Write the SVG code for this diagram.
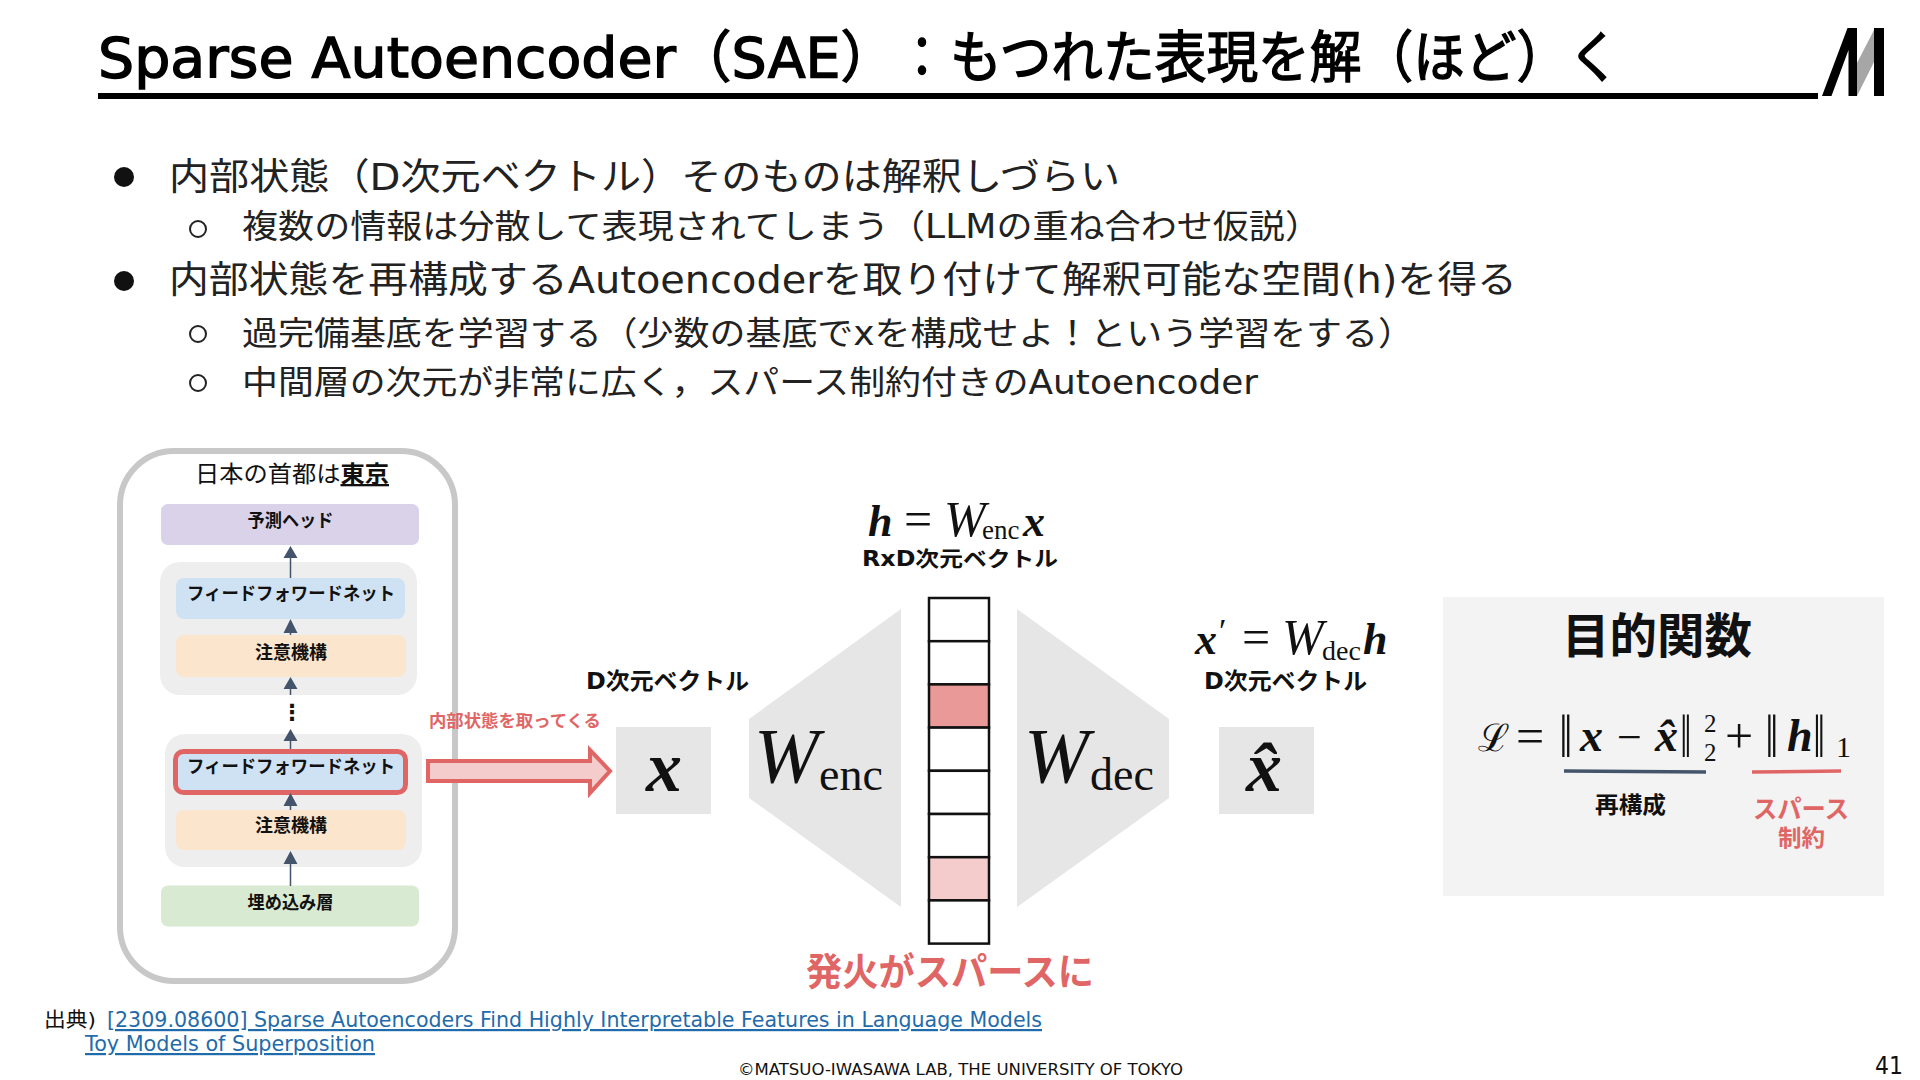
<svg xmlns="http://www.w3.org/2000/svg" width="1920" height="1080" viewBox="0 0 1920 1080">
<style>
text{font-family:"DejaVu Sans","Noto Sans CJK JP",sans-serif;fill:#111}
.ttl{font-size:56px;fill:#000;stroke:#000;stroke-width:1.4}
.body{font-size:37px;fill:#222}
.sub{font-size:33px;fill:#222}
.bl{font-size:18px;font-weight:700;text-anchor:middle}
.lab{font-size:23px;font-weight:700}
.red{fill:#e06666}
.m{font-family:"Liberation Serif",serif;fill:#111}
.bi{font-weight:700;font-style:italic}
.i{font-style:italic}
.link{font-size:22px;fill:#1f6bab;text-decoration:underline}
.grp{fill:#eeeeee}
.ffn{fill:#cfe2f3}
.att{fill:#fce5cd}
.mbox{fill:#e6e6e6}
.cell{fill:#fff;stroke:#111;stroke-width:2.5}
.cn{fill:none;stroke:#44546a;stroke-width:1.5}
.hd{fill:#44546a}
</style>
<rect width="1920" height="1080" fill="#fff"/>
<g id="title">
<text class="ttl" x="98" y="77" textLength="578" lengthAdjust="spacingAndGlyphs">Sparse Autoencoder</text>
<text class="ttl" x="676" y="77" textLength="220" lengthAdjust="spacingAndGlyphs">（SAE）</text>
<text class="ttl" x="898" y="77" textLength="48" lengthAdjust="spacingAndGlyphs">：</text>
<text class="ttl" x="950" y="77" textLength="670" lengthAdjust="spacingAndGlyphs">もつれた表現を解（ほど）く</text>
<rect x="98" y="93" width="1720" height="6" fill="#000"/>
<polygon points="1822,96 1847.500,28 1857,28 1857,96 1848.500,96 1848.500,50 1831.500,96" fill="#000"/>
<polygon points="1857,96 1857,63 1874,30 1874,62" fill="#a6a6a6"/>
<rect x="1874" y="28" width="10" height="68" fill="#000"/>
</g>
<g id="bullets">
<circle cx="124" cy="177" r="10" fill="#111"/>
<text class="body" x="169" y="190" textLength="951" lengthAdjust="spacingAndGlyphs">内部状態（D次元ベクトル）そのものは解釈しづらい</text>
<circle cx="198" cy="229" r="8" fill="none" stroke="#222" stroke-width="2"/>
<text class="sub" x="242" y="238" textLength="1079" lengthAdjust="spacingAndGlyphs">複数の情報は分散して表現されてしまう（LLMの重ね合わせ仮説）</text>
<circle cx="124" cy="281" r="10" fill="#111"/>
<text class="body" x="169" y="293" textLength="1348" lengthAdjust="spacingAndGlyphs">内部状態を再構成するAutoencoderを取り付けて解釈可能な空間(h)を得る</text>
<circle cx="198" cy="334" r="8" fill="none" stroke="#222" stroke-width="2"/>
<text class="sub" x="242" y="345" textLength="1172" lengthAdjust="spacingAndGlyphs">過完備基底を学習する（少数の基底でxを構成せよ！という学習をする）</text>
<circle cx="198" cy="383" r="8" fill="none" stroke="#222" stroke-width="2"/>
<text class="sub" x="242" y="394" textLength="1016" lengthAdjust="spacingAndGlyphs">中間層の次元が非常に広く，スパース制約付きのAutoencoder</text>
</g>
<g id="model-frame">
<rect x="120" y="451" width="335" height="530" rx="54" fill="#fff" stroke="#c8c8c8" stroke-width="6"/>
<text x="195" y="482" font-size="23" textLength="194" lengthAdjust="spacingAndGlyphs">日本の首都は<tspan font-weight="700" text-decoration="underline">東京</tspan></text>
</g>
<rect id="block-upper" class="grp" x="160" y="562" width="257" height="133" rx="20"/>
<rect id="block-lower" class="grp" x="165" y="734" width="257" height="133" rx="20"/>
<g id="head"><rect x="161" y="504" width="258" height="41" rx="7" fill="#d9d2e9"/><text class="bl" x="290.500" y="527" textLength="86" lengthAdjust="spacingAndGlyphs">予測ヘッド</text></g>
<g id="ffn-upper"><rect class="ffn" x="176" y="578" width="229" height="41" rx="8"/><text class="bl" x="291" y="600" textLength="208" lengthAdjust="spacingAndGlyphs">フィードフォワードネット</text></g>
<g id="att-upper"><rect class="att" x="176" y="635" width="230" height="42" rx="8"/><text class="bl" x="291" y="659">注意機構</text></g>
<g id="ffn-lower"><rect class="ffn" x="175.500" y="751.500" width="230" height="41" rx="8" stroke="#e06666" stroke-width="5"/><text class="bl" x="291" y="773" textLength="208" lengthAdjust="spacingAndGlyphs">フィードフォワードネット</text></g>
<g id="att-lower"><rect class="att" x="176" y="810" width="230" height="40" rx="8"/><text class="bl" x="291" y="832">注意機構</text></g>
<g id="embed"><rect x="161" y="885.500" width="258" height="41" rx="7" fill="#d9ead3"/><text class="bl" x="290.500" y="909" textLength="86" lengthAdjust="spacingAndGlyphs">埋め込み層</text></g>
<g id="connectors">
<path class="cn" d="M290.500 578V556M290.500 635V631M290.500 695V687M290.500 749V739M290.500 810V804M290.500 886V862"/>
<path class="hd" d="M290.500 546l-7 12h14zM290.500 619l-7 14h14zM290.500 677l-7 12h14zM290.500 729l-7 12h14zM290.500 793l-7 13h14zM290.500 851l-7 13h14z"/>
<path id="tap-arrow" d="M428 761H590V750L610 771 590 793V781H428z" fill="#f4cccc" stroke="#e06666" stroke-width="4"/>
</g>
<text id="dots" x="292" y="720" font-size="22" font-weight="700" text-anchor="middle">⋮</text>
<text id="tap-label" class="red" x="429" y="727" font-size="17" font-weight="700" textLength="172" lengthAdjust="spacingAndGlyphs">内部状態を取ってくる</text>
<g id="x-input">
<text class="lab" x="586" y="689" textLength="163" lengthAdjust="spacingAndGlyphs">D次元ベクトル</text>
<rect class="mbox" x="616" y="727" width="95" height="87"/>
<text class="m bi" x="646" y="791" font-size="72">x</text>
</g>
<g id="encoder">
<polygon class="mbox" points="749,719 901,609 901,907 749,798"/>
<text class="m i" x="754" y="782" font-size="78">W</text>
<text class="m" x="819" y="790" font-size="46">enc</text>
</g>
<g id="latent">
<text class="m bi" x="868" y="536" font-size="44">h</text>
<text class="m" x="904" y="536" font-size="50">=</text>
<text class="m i" x="944" y="536" font-size="50">W</text>
<text class="m" x="982" y="539" font-size="27">enc</text>
<text class="m bi" x="1023" y="536" font-size="44">x</text>
<text class="lab" x="862" y="566" style="font-size:21px" textLength="196" lengthAdjust="spacingAndGlyphs">RxD次元ベクトル</text>
<rect class="cell" x="929" y="598" width="60" height="43.200"/>
<rect class="cell" x="929" y="641.200" width="60" height="43.200"/>
<rect class="cell" x="929" y="684.400" width="60" height="43.200" style="fill:#ea9999"/>
<rect class="cell" x="929" y="727.600" width="60" height="43.200"/>
<rect class="cell" x="929" y="770.800" width="60" height="43.200"/>
<rect class="cell" x="929" y="814" width="60" height="43.200"/>
<rect class="cell" x="929" y="857.200" width="60" height="43.200" style="fill:#f4cccc"/>
<rect class="cell" x="929" y="900.400" width="60" height="43.200"/>
<text class="red" x="806" y="985" font-size="38" font-weight="700" textLength="288" lengthAdjust="spacingAndGlyphs">発火がスパースに</text>
</g>
<g id="decoder">
<polygon class="mbox" points="1017,609 1169,719 1169,798 1017,907"/>
<text class="m i" x="1024" y="782" font-size="78">W</text>
<text class="m" x="1090" y="790" font-size="46">dec</text>
</g>
<g id="x-output">
<text class="m bi" x="1195" y="654" font-size="44">x</text>
<text class="m" x="1219" y="642" font-size="34">′</text>
<text class="m" x="1242" y="654" font-size="50">=</text>
<text class="m i" x="1282" y="654" font-size="50">W</text>
<text class="m" x="1322" y="660" font-size="28">dec</text>
<text class="m bi" x="1363" y="654" font-size="44">h</text>
<text class="lab" x="1204" y="689" textLength="163" lengthAdjust="spacingAndGlyphs">D次元ベクトル</text>
<rect class="mbox" x="1219" y="727" width="95" height="87"/>
<text class="m bi" x="1246" y="791" font-size="72">x̂</text>
</g>
<g id="objective">
<rect x="1443" y="597" width="441" height="299" fill="#f3f3f3"/>
<text x="1562" y="653" font-size="48" font-weight="700" fill="#000" textLength="190" lengthAdjust="spacingAndGlyphs">目的関数</text>
<text x="1478" y="751" font-size="38" style="font-family:'DejaVu Serif',serif">ℒ</text>
<text class="m" x="1516" y="753" font-size="50">=</text>
<text class="m" transform="translate(1559 757) scale(1.05 1.35)" font-size="46">‖</text>
<text class="m bi" x="1580" y="751" font-size="46">x</text>
<text class="m" x="1617" y="752" font-size="44">−</text>
<text class="m bi" x="1655" y="751" font-size="46">x̂</text>
<text class="m" transform="translate(1680 757) scale(0.9 1.35)" font-size="46">‖</text>
<text class="m" font-size="25"><tspan x="1704" y="732">2</tspan><tspan x="1704" y="761">2</tspan></text>
<text class="m" x="1725" y="753" font-size="50">+</text>
<text class="m" transform="translate(1765 757) scale(1.05 1.35)" font-size="46">‖</text>
<text class="m bi" x="1787" y="751" font-size="46">h</text>
<text class="m" transform="translate(1813 757) scale(0.95 1.35)" font-size="46">‖</text>
<text class="m" x="1836" y="757" font-size="30">1</text>
<path d="M1564 771L1706 772" stroke="#44546a" stroke-width="3.500" fill="none"/>
<path d="M1752 772L1841 771" stroke="#e06666" stroke-width="3.500" fill="none"/>
<text class="lab" x="1595" y="813" textLength="71" lengthAdjust="spacingAndGlyphs">再構成</text>
<text class="red" x="1753" y="818" font-size="25" font-weight="700" textLength="96" lengthAdjust="spacingAndGlyphs">スパース</text>
<text class="red" x="1778" y="846" font-size="23" font-weight="700" textLength="47" lengthAdjust="spacingAndGlyphs">制約</text>
</g>
<g id="footer">
<text x="44" y="1027" font-size="20" textLength="52" lengthAdjust="spacingAndGlyphs">出典)</text>
<text class="link" x="107" y="1027" textLength="935" lengthAdjust="spacingAndGlyphs">[2309.08600] Sparse Autoencoders Find Highly Interpretable Features in Language Models</text>
<text class="link" x="85" y="1051" textLength="290" lengthAdjust="spacingAndGlyphs">Toy Models of Superposition</text>
<text x="738" y="1075" font-size="16" fill="#222" textLength="445" lengthAdjust="spacingAndGlyphs">©MATSUO-IWASAWA LAB, THE UNIVERSITY OF TOKYO</text>
<text x="1875" y="1074" font-size="24" fill="#333" textLength="28" lengthAdjust="spacingAndGlyphs">41</text>
</g>
</svg>
